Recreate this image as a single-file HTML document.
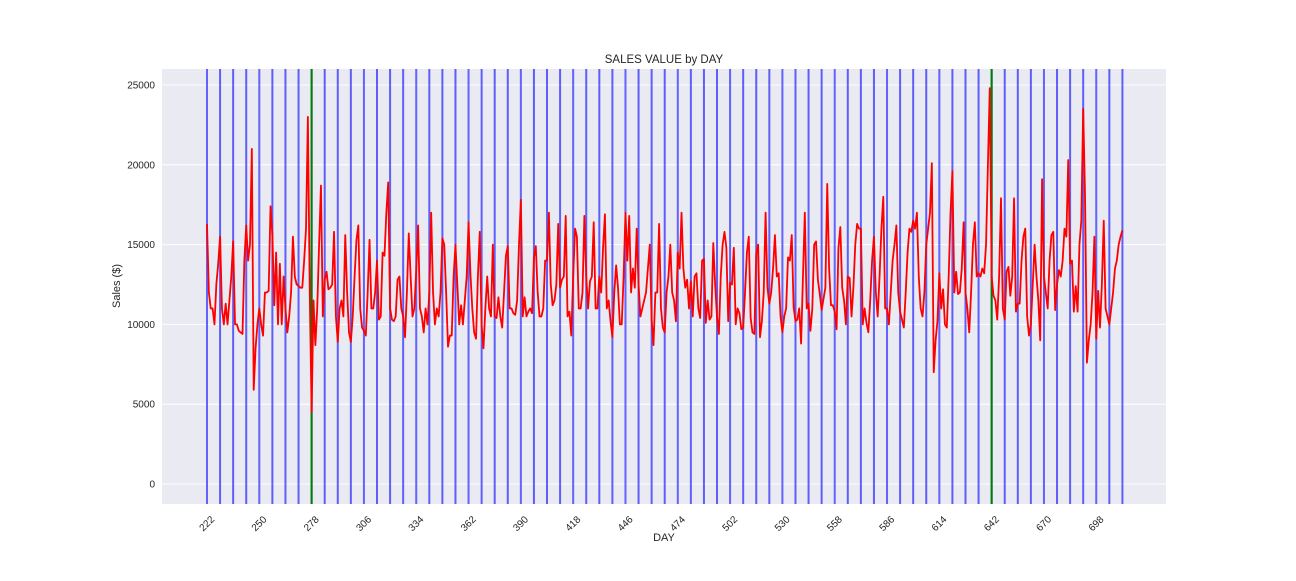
<!DOCTYPE html>
<html><head><meta charset="utf-8"><style>
body{margin:0;background:#fff;width:1296px;height:576px;overflow:hidden}
svg{font-family:"Liberation Sans",sans-serif}
</style></head><body>
<svg id="chart" width="1296" height="576">
<rect x="162" y="69" width="1004" height="435" fill="#eaeaf2"/>
<g id="grid"></g><g id="vlines"></g><g id="series"></g><g id="ticks"></g>
<text x="664" y="63" text-anchor="middle" font-size="11.5" fill="#262626">SALES VALUE by DAY</text>
<text x="664" y="541" text-anchor="middle" font-size="11" fill="#262626">DAY</text>
<text x="120" y="286" text-anchor="middle" font-size="11" fill="#262626" transform="rotate(-90 120 286)">Sales ($)</text>
</svg>
<script>
const startDay = 222;
const weeks = [
[16.3,12,11,11,10,12.5,13.8],[15.5,11,10,11.3,10,11.5,13],[15.2,10,10,9.6,9.5,9.4,14],[16.2,14,15,21,5.9,8.5,10],
[11,10,9.3,12,12,12.1,17.4],[15.6,11.2,14.5,10,13.8,10,13],[11,9.5,10.5,12,15.5,13,12.5],[12.4,12.3,12.3,14,16,23,12],
[4.5,11.5,8.7,11,15,18.7,10.5],[12.8,13.3,12.2,12.3,12.5,15.8,10.5],[8.9,11,11.5,10.5,15.6,12,9.5],[8.9,10.5,13,15.3,16.2,11,9.8],
[9.6,9.3,12,15.3,11,11,12],[14,10.3,10.5,14.5,14.3,17,18.9],[11,10.3,10.2,10.5,12.8,13,11],[10.5,9.2,12,15.7,13,10.5,11],
[13.4,16.2,11,10.5,9.5,11,10],[12,17,12,10,11,10.5,12],[15.4,15,12,8.6,9.3,9.3,13],[15,12.5,10,11.2,10,11.5,13],
[16.4,13.2,11,9.5,9.1,13,15.8],[9.9,8.5,11,13,11,10.5,15],[10.5,10.4,11.7,10.5,9.8,12,14.3],[14.9,11,11,10.7,10.6,11.5,15],
[17.8,10.5,11.7,10.5,10.8,11,10.7],[14.2,14.9,12,10.5,10.5,11,14],[14,17,12.5,11.2,11.5,12.5,16.3],[12.3,12.8,13,16.8,10.5,10.8,9.3],
[13,16,15.5,11,11,12,16.8],[13,11,12.7,13,16.4,11,11],[13,12,14.8,16.9,11,11.5,10.2],[9.2,12,13.7,12.3,10,10,13],
[17,14,16.8,12,13.5,12.3,16],[12.5,10.5,11,11.5,12,13.5,15],[10.3,8.7,12,12,16.3,11,9.8],[9.5,12,13,15,12,11.5,10.2],
[14.5,13.5,17,13.5,12.3,12.8,11],[12.7,10.5,13,13.2,11,10.4,14],[14.1,10.1,11.5,10.3,10.5,15.1,12.5],[10.5,9.4,13,15,15.8,14.8,10.2],
[12.6,12.5,14.8,10,11,10.7,9.7],[9.8,12,14.5,15.5,10.4,9.5,9.4],[14.4,15,9.2,10.2,12,17,12.3],[11.3,12,13.5,15.6,13,13.2,10.5],
[9.5,10.5,11,14.2,14,15.6,11.1],[10.2,10.3,11,8.8,13,17,11],[11.3,9.6,11,15,15.2,12.8,11.9],[10.9,11.6,12.3,18.8,13.5,11.2,11.2],
[10.8,9.7,14.8,16.1,12.3,11.5,10],[13,12.9,10.5,12.3,15,16.3,16],[16,10,11,10.1,9.5,11.5,14],[15.5,12,10.5,13,16,18,11],
[11,10,12,14,15,16.2,12],[10.8,10.3,9.8,12,14.5,16,15.8],[16.5,16,17,13,11,10.5,12],[15,16,17,20.1,7,9,10.2],
[13.2,11,12.2,10,9.8,13,17],[19.6,12,13.3,11.9,12,13.5,16.4],[12,11,9.5,12,15,16.4,13],[13.2,13,13.5,13.2,15,20,24.8],
[13,11.8,11.5,10.3,13,17.9,11],[10.3,13.3,13.6,11.8,13,17.9,10.8],[11.3,11.3,14,15.5,16,10.5,9.3],[10,12.5,15,13,11.5,9,19.1],
[13,12,11,14,15.6,15.8,10.9],[12.5,13.4,13,14,16,15.5,20.3],[13.8,14,10.8,12.4,10.8,15,16.5],[23.5,18,7.6,9,10,12,15.5],
[9.1,12.1,9.8,12.5,16.5,11,10.5],[10,11,12,13.5,14,15,15.5,15.9]
];
const sales = weeks.flat().map(v=>v*1000);
const yTicks = [0,5000,10000,15000,20000,25000];
const xTicks = [222,250,278,306,334,362,390,418,446,474,502,530,558,586,614,642,670,698];
const greenDays = [278,642];

const NS="http://www.w3.org/2000/svg";
const X=d=>207+(d-222)*1.8682;
const Y=v=>484-v*0.01596;
function mk(tag,attrs,parent){const e=document.createElementNS(NS,tag);for(const k in attrs)e.setAttribute(k,attrs[k]);document.getElementById(parent).appendChild(e);return e;}

yTicks.forEach(v=>{
  const l=mk('line',{x1:162,x2:1166,y1:Y(v),y2:Y(v),stroke:'#fff','stroke-width':1},'grid');
  
  
  const t=mk('text',{x:155,y:Y(v)+3.5,'text-anchor':'end','font-size':10,fill:'#262626'},'ticks');
  t.textContent=v;
  
  
});
xTicks.forEach(d=>{
  const l=mk('line',{x1:X(d),x2:X(d),y1:69,y2:504,stroke:'#fff','stroke-width':1},'grid');
  
  
  const x=X(d)+8,y=520;
  const t=mk('text',{x:x,y:y,'text-anchor':'end','font-size':10,fill:'#262626',transform:`rotate(-45 ${x} ${y})`},'ticks');
  t.textContent=d;
  
  
});
const lastDay=startDay+sales.length-1;
for(let d=startDay; d<=lastDay; d+=7){
  const l=mk('line',{x1:X(d),x2:X(d),y1:69,y2:504,stroke:'#0000ff','stroke-opacity':0.6,'stroke-width':2},'vlines');
  
  
}
greenDays.forEach(d=>{
  const l=mk('line',{x1:X(d),x2:X(d),y1:69,y2:504,stroke:'#008000','stroke-width':2},'vlines');
  
  
});
const pts=sales.map((v,i)=>X(startDay+i).toFixed(2)+','+Y(v).toFixed(2)).join(' ');
const p=mk('polyline',{points:pts,fill:'none',stroke:'#ff0000','stroke-width':1.8,'stroke-linejoin':'round'},'series');


</script>
</body></html>
